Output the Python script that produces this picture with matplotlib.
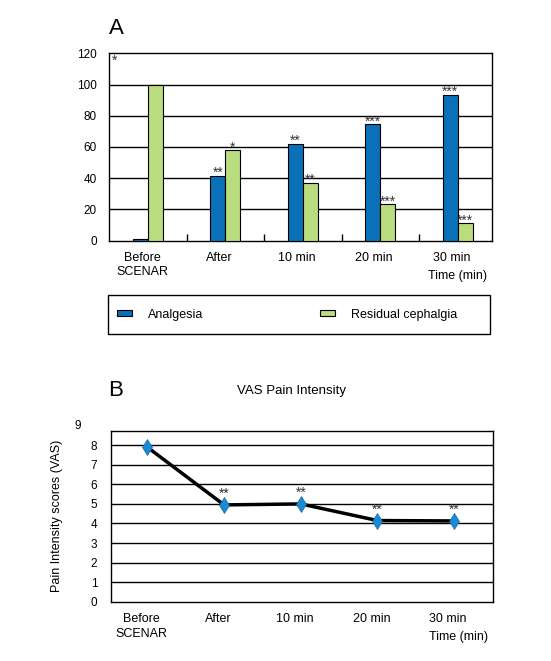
import matplotlib.pyplot as plt
import matplotlib.transforms as mtransforms
from matplotlib.patches import Rectangle
import numpy as np

plt.rcParams['font.family'] = ['Liberation Sans', 'DejaVu Sans']

# data
categories = ['Before\nSCENAR', 'After', '10 min', '20 min', '30 min']
analgesia = [1, 41.5, 62, 74.5, 93.5]
residual = [100, 58, 37, 23.5, 11]
stars_analgesia = ['', '**', '**', '***', '***']
stars_residual = ['', '*', '**', '***', '***']
vas = [7.9, 4.95, 5.0, 4.15, 4.13]
stars_vas = ['', '**', '**', '**', '**']

blue = '#0a70b8'
green = '#b9dc7e'
star_col = '#333333'

fig = plt.figure(figsize=(5.51, 6.61), dpi=100)

def shifted(ax, dy_pt):
    # offset in points from data coords
    return ax.transData + mtransforms.ScaledTranslation(0, dy_pt / 72, fig.dpi_scale_trans)

# ---- panel A
ax1 = fig.add_axes([0.1984, 0.6359, 0.694, 0.2835])
x = np.arange(len(categories))
w = 0.194
ax1.bar(x - w / 2, analgesia, w, color=blue, edgecolor='black', linewidth=0.8, zorder=3, label='Analgesia')
ax1.bar(x + w / 2, residual, w, color=green, edgecolor='black', linewidth=0.8, zorder=3, label='Residual cephalgia')
for i in range(len(categories)):
    if stars_analgesia[i]:
        ax1.text(x[i] - w / 2, analgesia[i], stars_analgesia[i], ha='center', va='baseline', fontsize=10,
                 color=star_col, transform=shifted(ax1, -1))
    if stars_residual[i]:
        ax1.text(x[i] + w / 2, residual[i], stars_residual[i], ha='center', va='baseline', fontsize=10,
                 color=star_col, transform=shifted(ax1, -1))
ax1.text(-0.43, 115, '*', ha='center', va='center', fontsize=10, color=star_col)
ax1.set_xlim(-0.5, 4.44)
ax1.set_ylim(0, 120)
ax1.set_yticks(np.arange(0, 121, 20))
for yv in range(20, 101, 20):
    ax1.axhline(yv, color='black', linewidth=1.0, zorder=1)
ax1.set_xticks(x)
ax1.set_xticklabels(categories, fontsize=9, linespacing=1.3)
ax1.set_xticks(x[:-1] + 0.5, minor=True)
ax1.tick_params(axis='x', which='major', length=0, pad=8)
ax1.tick_params(axis='x', which='minor', direction='in', length=5, width=1)
ax1.tick_params(axis='y', length=0, pad=9, labelsize=8.5)
for lab in ax1.get_xticklabels():
    lab.set_transform(lab.get_transform() + mtransforms.ScaledTranslation(-6 / 100, 0, fig.dpi_scale_trans))
for s in ax1.spines.values():
    s.set_linewidth(1.0)
ax1.text(4.0, -0.19, 'Time (min)', transform=mtransforms.blended_transform_factory(ax1.transData, ax1.transAxes),
         ha='center', va='center', fontsize=9)
fig.text(0.198, 0.957, 'A', fontsize=16, ha='left', va='center')

# legend box
handles, labels = ax1.get_legend_handles_labels()
leg = fig.legend(handles, labels, loc='center left', bbox_to_anchor=(0.2123, 0.5242), ncol=2, fontsize=9,
                 frameon=False, handlelength=1.2, handleheight=0.45, handletextpad=1.25, columnspacing=9.4,
                 borderpad=0, borderaxespad=0)
fig.patches.append(Rectangle((0.196, 0.4947), 0.693, 0.059, transform=fig.transFigure, fill=False,
                             edgecolor='black', linewidth=1.0))

# ---- panel B
ax2 = fig.add_axes([0.202, 0.0897, 0.6933, 0.2583])
ax2.plot(x, vas, color='black', linewidth=2.5, zorder=3)
ax2.plot(x, vas, linestyle='none', marker='d', markersize=8, markerfacecolor='#1a8ad4',
         markeredgecolor='#1a6aa0', markeredgewidth=0.5, zorder=4)
for i in range(len(categories)):
    if stars_vas[i]:
        ax2.text(x[i], vas[i], stars_vas[i], ha='center', va='baseline', fontsize=10, color=star_col,
                 transform=shifted(ax2, 5))
ax2.set_xlim(-0.47, 4.51)
ax2.set_ylim(0, 8.73)
for yv in range(1, 9):
    ax2.axhline(yv, color='black', linewidth=1.0, zorder=1)
ax2.set_yticks(range(0, 9))
ax2.text(-0.08, 9, '9', transform=mtransforms.blended_transform_factory(ax2.transAxes, ax2.transData),
         ha='right', va='center', fontsize=8.5, clip_on=False)
ax2.set_xticks(x)
ax2.set_xticklabels(categories, fontsize=9, linespacing=1.3)
ax2.tick_params(axis='x', length=0, pad=8)
ax2.tick_params(axis='y', length=0, pad=10, labelsize=8.5)
for lab in ax2.get_xticklabels():
    lab.set_transform(lab.get_transform() + mtransforms.ScaledTranslation(-6 / 100, 0, fig.dpi_scale_trans))
for s in ax2.spines.values():
    s.set_linewidth(1.0)
ax2.set_ylabel('Pain Intensity scores (VAS)', fontsize=9, labelpad=20)
ax2.text(4.05, -0.207, 'Time (min)', transform=mtransforms.blended_transform_factory(ax2.transData, ax2.transAxes),
         ha='center', va='center', fontsize=9)
fig.text(0.529, 0.4085, 'VAS Pain Intensity', fontsize=9.5, ha='center', va='center')
fig.text(0.196, 0.4085, 'B', fontsize=16, ha='left', va='center')

fig.savefig('out.png', dpi=100)
